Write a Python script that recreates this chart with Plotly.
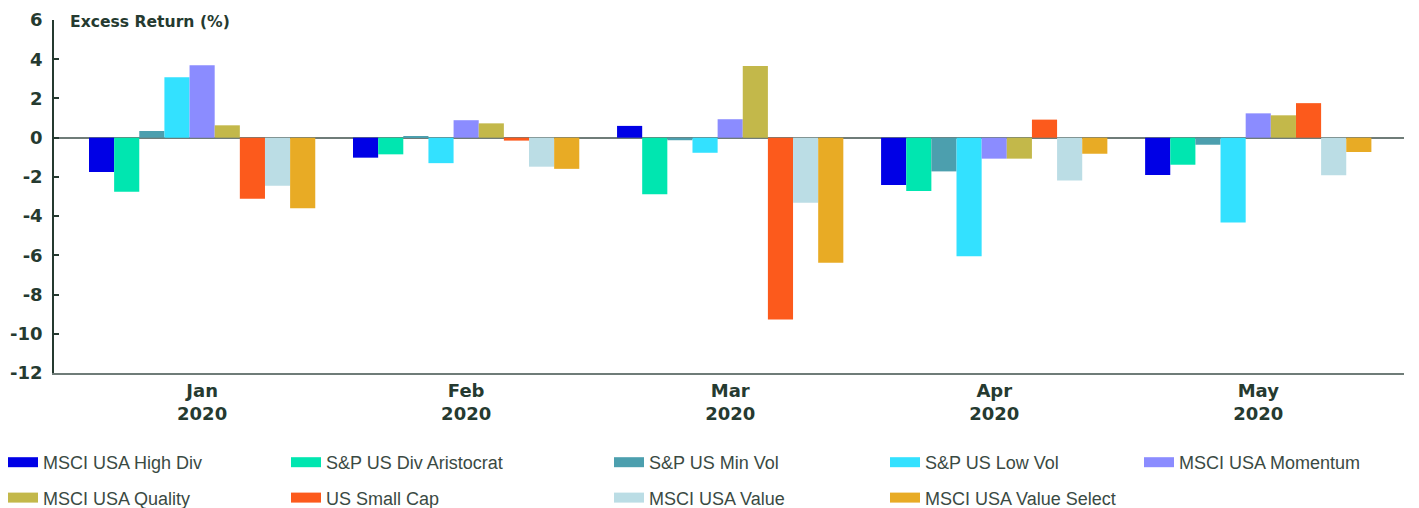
import plotly.graph_objects as go

months = ["Jan", "Feb", "Mar", "Apr", "May"]
year = "2020"
tick_labels = [f"{m}<br>{year}" for m in months]

series_names = [
    "MSCI USA High Div", "S&P US Div Aristocrat", "S&P US Min Vol",
    "S&P US Low Vol", "MSCI USA Momentum", "MSCI USA Quality",
    "US Small Cap", "MSCI USA Value", "MSCI USA Value Select",
]

high_div = [-1.75, -1.02, 0.60, -2.41, -1.90]
div_aristocrat = [-2.76, -0.85, -2.89, -2.72, -1.38]
min_vol = [0.34, 0.07, -0.13, -1.72, -0.36]
low_vol = [3.08, -1.30, -0.77, -6.05, -4.32]
momentum = [3.69, 0.89, 0.94, -1.07, 1.24]
quality = [0.63, 0.73, 3.66, -1.07, 1.14]
small_cap = [-3.11, -0.15, -9.27, 0.92, 1.76]
value = [-2.45, -1.48, -3.32, -2.19, -1.92]
value_select = [-3.60, -1.59, -6.38, -0.82, -0.73]

series_values = [high_div, div_aristocrat, min_vol, low_vol, momentum,
                 quality, small_cap, value, value_select]

colors = ["#0000E6", "#00E6B0", "#4C9FAE", "#33E1FF", "#8B8CFF",
          "#C3B84A", "#FC5A1C", "#BBDDE5", "#E8AB25"]

y_ticks = [6, 4, 2, 0, -2, -4, -6, -8, -10, -12]

TEXT = "#253a30"
LEG_TEXT = "#3a4a43"

# page body has an 8px margin, so the figure is sized to fit the window
FIG_W, FIG_H = 1411, 500
M_L, M_R, M_T, M_B = 46, 15, 12, 135
PLOT_W = FIG_W - M_L - M_R

fig = go.Figure()
for name, vals, col in zip(series_names, series_values, colors):
    fig.add_trace(go.Bar(
        x=tick_labels, y=vals, name=name, marker_color=col,
        marker_line_width=0, showlegend=False, legendgroup=name,
    ))

# legend columns (left edge, in figure pixels)
legend_cols_px = [-5, 278, 601, 877, 1131]
legend_keys = ["legend", "legend2", "legend3", "legend4", "legend5"]
for i, (name, col) in enumerate(zip(series_names, colors)):
    fig.add_trace(go.Scatter(
        x=[tick_labels[0]], y=[None], mode="lines", name=name,
        line=dict(color=col, width=15), legendgroup=name,
        showlegend=True, legend=legend_keys[i % 5], hoverinfo="skip",
    ))

legend_common = dict(
    orientation="v", xref="paper", yref="container",
    xanchor="left", yanchor="top", bgcolor="rgba(0,0,0,0)",
    font=dict(family="Liberation Sans, Arial, sans-serif", size=18, color=LEG_TEXT),
    tracegroupgap=9, itemwidth=30,
)
layout_legends = {}
for key, px in zip(legend_keys, legend_cols_px):
    layout_legends[key] = dict(legend_common, x=(px - M_L) / PLOT_W, y=1 - 436 / FIG_H)

fig.update_layout(
    width=FIG_W, height=FIG_H,
    margin=dict(l=M_L, r=M_R, t=M_T, b=M_B, autoexpand=False),
    paper_bgcolor="white", plot_bgcolor="white",
    barmode="group", bargap=0.143, bargroupgap=0,
    **layout_legends,
)

fig.update_xaxes(
    type="category", range=[-0.561, 4.552],
    showline=True, linecolor="#6f7c78", linewidth=2,
    showgrid=False, ticks="", tickangle=0,
    tickfont=dict(family="DejaVu Sans, sans-serif", size=18, color=TEXT, weight="bold"),
)
fig.update_yaxes(
    range=[-12, 6], tickvals=y_ticks, ticktext=[str(v) for v in y_ticks],
    showline=True, linecolor=TEXT, linewidth=1.5,
    ticks="inside", ticklen=5, tickwidth=1.5, tickcolor=TEXT,
    ticklabelstandoff=6,
    showgrid=False, zeroline=True, zerolinecolor="#6f7c78", zerolinewidth=2,
    tickfont=dict(family="DejaVu Sans, sans-serif", size=18, color=TEXT, weight="bold"),
)

fig.add_annotation(
    text="<b>Excess Return (%)</b>", xref="paper", yref="paper",
    x=(60 - M_L) / PLOT_W, y=(365 - 14) / 353, xanchor="left", yanchor="middle",
    showarrow=False,
    font=dict(family="DejaVu Sans, sans-serif", size=15.6, color=TEXT),
)

fig.write_html("out.html")
